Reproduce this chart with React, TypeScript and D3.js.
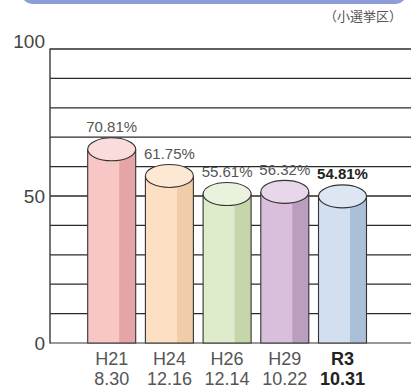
import React from "react";
import * as d3 from "d3";

const categories = ["H21", "H24", "H26", "H29", "R3"];
const dates = ["8.30", "12.16", "12.14", "10.22", "10.31"];
const values = [70.81, 61.75, 55.61, 56.32, 54.81];
const valueLabels = ["70.81%", "61.75%", "55.61%", "56.32%", "54.81%"];
const yTickLabels = [0, 50, 100];
const bodyColors = ["#f9c6c6", "#fde0c3", "#dfeccb", "#d9bfdc", "#d2dff0"];
const shadeColors = ["#e5a5a7", "#f0cda8", "#c5d7aa", "#bb9dc0", "#aabfd8"];
const topColors = ["#fbdcdc", "#fde8d3", "#eaf2dd", "#e8d7ea", "#dde7f4"];
const highlight = [false, false, false, false, true];

const W = 411;
const H = 388;
const FONT = "'Liberation Sans', Arial, sans-serif";

export default function App() {
  const left = 50;
  const right = 411;
  const y = d3.scaleLinear().domain([0, 100]).range([343, 49]);
  const x = d3.scalePoint<string>().domain(categories).range([111.7, 342.5]);
  const gridVals = d3.range(0, 101, 10);
  const half = 24;
  const ry = 11.5;
  const topOffset = 14.5;
  const shadeStart = 7.5;

  return (
    <svg width={W} height={H} style={{ position: "absolute", left: 0, top: 0, background: "#fff" }} fontFamily={FONT}>
      <rect x={22} y={-20} width={384} height={24} rx={10} fill="#8d9dd6" />
      <text x={402} y={20.5} fontSize={13} fill="#555" textAnchor="end" fontFamily="'Noto Sans CJK JP', sans-serif">（小選挙区）</text>

      {gridVals.map((g) => (
        <line key={g} x1={left} x2={right} y1={y(g)} y2={y(g)} stroke={g === 0 ? "#777" : "#2a2a2a"} strokeWidth={1.3} />
      ))}
      <line x1={left} x2={left} y1={y(100) - 0.6} y2={y(0) + 0.6} stroke="#444" strokeWidth={1.5} />

      {yTickLabels.map((t) => (
        <text key={t} x={45} y={t === 100 ? y(t) - 1 : y(t) + 7} fontSize={19} fill="#444" textAnchor="end">{t}</text>
      ))}

      {categories.map((c, i) => {
        const cx = x(c) as number;
        const cy = y(values[i]) + topOffset;
        const by = y(0);
        const fill = highlight[i] ? "#222" : "#555";
        const weight = highlight[i] ? "bold" : "normal";
        return (
          <g key={c}>
            <rect x={cx - half} y={cy} width={half * 2} height={by - cy} fill={bodyColors[i]} />
            <rect x={cx + shadeStart} y={cy} width={half - shadeStart} height={by - cy} fill={shadeColors[i]} />
            <path d={`M${cx - half},${cy} L${cx - half},${by} L${cx + half},${by} L${cx + half},${cy}`} fill="none" stroke="#333" strokeWidth={1.1} />
            <ellipse cx={cx} cy={cy} rx={half} ry={ry} fill={topColors[i]} stroke="#333" strokeWidth={1.1} />
            <text x={cx} y={y(values[i]) - 2.5} fontSize={15} fill={fill} fontWeight={weight} textAnchor="middle">{valueLabels[i]}</text>
            <text x={cx} y={365} fontSize={18} fill={fill} fontWeight={weight} textAnchor="middle">{c}</text>
            <text x={cx} y={385} fontSize={18} fill={fill} fontWeight={weight} textAnchor="middle">{dates[i]}</text>
          </g>
        );
      })}
    </svg>
  );
}
